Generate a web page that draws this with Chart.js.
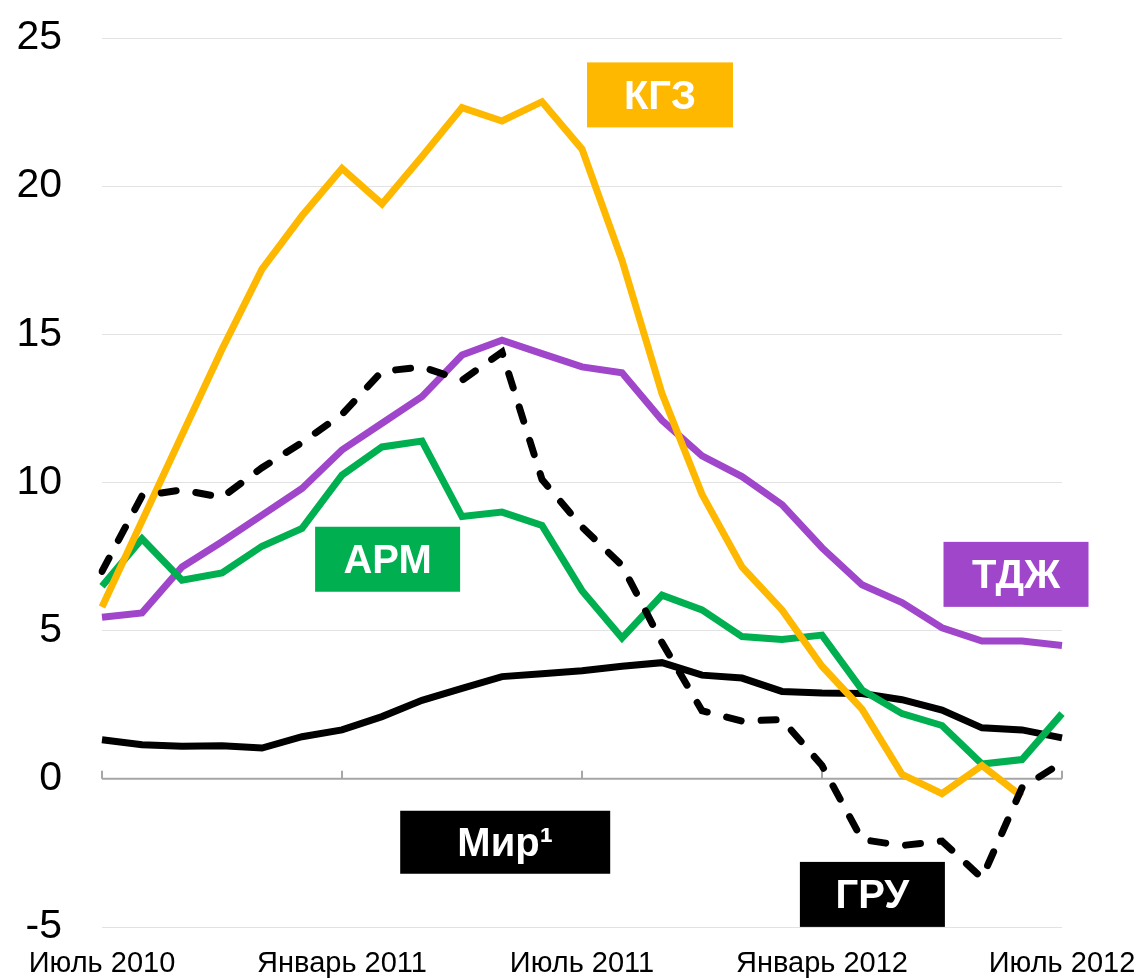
<!DOCTYPE html>
<html>
<head>
<meta charset="utf-8">
<script src="https://cdn.jsdelivr.net/npm/chart.js@4.4.1/dist/chart.umd.min.js"></script>
<style>
  html, body { margin: 0; padding: 0; background: #fff; }
  #wrap { width: 1140px; height: 978px; position: relative; }
</style>
</head>
<body>
<div id="wrap"><canvas id="c" width="1140" height="978"></canvas></div>
<script>
// ---- data ----
const categories = [
  'Июль 2010','Август 2010','Сентябрь 2010','Октябрь 2010','Ноябрь 2010','Декабрь 2010',
  'Январь 2011','Февраль 2011','Март 2011','Апрель 2011','Май 2011','Июнь 2011',
  'Июль 2011','Август 2011','Сентябрь 2011','Октябрь 2011','Ноябрь 2011','Декабрь 2011',
  'Январь 2012','Февраль 2012','Март 2012','Апрель 2012','Май 2012','Июнь 2012','Июль 2012'
];
const tickLabels = ['Июль 2010','Январь 2011','Июль 2011','Январь 2012','Июль 2012'];
const yTicks = [-5, 0, 5, 10, 15, 20, 25];

const kgz = [5.8, 8.7, 11.6, 14.5, 17.2, 19.0, 20.6, 19.4, 21.0, 22.65, 22.2, 22.85,
             21.25, 17.5, 13.0, 9.6, 7.15, 5.7, 3.8, 2.35, 0.15, -0.5, 0.45, -0.6, null];
const tdz = [5.45, 5.6, 7.15, 8.0, 8.9, 9.8, 11.1, 12.0, 12.9, 14.3, 14.8, 14.35,
             13.9, 13.7, 12.1, 10.9, 10.2, 9.25, 7.8, 6.55, 5.95, 5.1, 4.65, 4.65, 4.5];
const arm = [6.5, 8.1, 6.7, 6.95, 7.85, 8.45, 10.25, 11.2, 11.4, 8.85, 9.0, 8.55,
             6.35, 4.75, 6.2, 5.7, 4.8, 4.7, 4.85, 3.0, 2.2, 1.8, 0.5, 0.65, 2.2];
const world = [1.32, 1.15, 1.1, 1.12, 1.04, 1.42, 1.65, 2.1, 2.65, 3.05, 3.45, 3.55,
               3.65, 3.8, 3.92, 3.5, 3.4, 2.95, 2.9, 2.88, 2.67, 2.32, 1.72, 1.65, 1.38];
const gru = [7.0, 9.55, 9.75, 9.5, 10.5, 11.35, 12.3, 13.75, 13.9, 13.45, 14.4, 10.1,
             8.5, 7.2, 4.6, 2.3, 1.95, 2.0, 0.45, -2.05, -2.25, -2.1, -3.35, -0.3, 0.55];

const seriesNames = ['ГРУ', 'КГЗ', 'АРМ', 'ТДЖ', 'Мир¹'];
const seriesColors = ['#000000', '#FFB800', '#00B050', '#A046CB', '#000000'];

// ---- annotation boxes (anchored in data space) ----
const boxes = [
  { text: 'КГЗ',  color: '#FFB800', xi: 13.95, y: 23.08, w: 146, h: 65 },
  { text: 'АРМ',  color: '#00B050', xi: 7.14,  y: 7.41,  w: 145, h: 65 },
  { text: 'ТДЖ',  color: '#A046CB', xi: 22.85, y: 6.90,  w: 145, h: 65 },
  { text: 'Мир¹', color: '#000000', xi: 10.08, y: -2.14, w: 210, h: 63 },
  { text: 'ГРУ',  color: '#000000', xi: 19.26, y: -3.90, w: 145, h: 65 }
];

const FONT = '"Liberation Sans", Arial, Helvetica, sans-serif';

const axisPlugin = {
  id: 'zeroAxis',
  beforeDatasetsDraw(chart) {
    const { ctx, scales: { x, y }, chartArea } = chart;
    const y0 = y.getPixelForValue(0);
    ctx.save();
    ctx.strokeStyle = '#a6a6a6';
    ctx.lineWidth = 2;
    ctx.beginPath();
    ctx.moveTo(chartArea.left, y0);
    ctx.lineTo(chartArea.right, y0);
    categories.forEach((c, i) => {
      if (tickLabels.includes(c)) {
        const px = Math.round(x.getPixelForValue(i));
        ctx.moveTo(px, y0);
        ctx.lineTo(px, y0 - 8);
      }
    });
    ctx.stroke();
    ctx.restore();
  },
  afterDatasetsDraw(chart) {
    const { ctx, scales: { x, y } } = chart;
    ctx.save();
    boxes.forEach(b => {
      const cx = x.getPixelForValue(b.xi);
      const cy = y.getPixelForValue(b.y);
      ctx.fillStyle = b.color;
      ctx.fillRect(cx - b.w / 2, cy - b.h / 2, b.w, b.h);
      ctx.fillStyle = '#ffffff';
      ctx.font = 'bold 40px ' + FONT;
      ctx.textAlign = 'center';
      ctx.textBaseline = 'middle';
      ctx.fillText(b.text, cx, cy + 3);
    });
    ctx.restore();
  }
};

const seriesData = [gru, kgz, arm, tdz, world];
const datasets = seriesData.map((d, k) => ({
  label: seriesNames[k],
  data: d,
  borderColor: seriesColors[k],
  backgroundColor: seriesColors[k],
  borderWidth: 7,
  pointRadius: 0,
  tension: 0,
  fill: false,
  borderCapStyle: k === 0 ? 'round' : 'butt',
  borderJoinStyle: 'miter',
  borderDash: k === 0 ? [15, 20] : [],
  spanGaps: false
}));

new Chart(document.getElementById('c'), {
  type: 'line',
  data: { labels: categories, datasets },
  options: {
    responsive: false,
    animation: false,
    devicePixelRatio: 1,
    layout: { padding: { left: 17, right: 78, top: 38, bottom: 0 } },
    plugins: { legend: { display: false }, tooltip: { enabled: false } },
    scales: {
      x: {
        type: 'category',
        offset: false,
        grid: { display: false, drawTicks: false },
        border: { display: false },
        afterFit: (s) => { s.height = 51; s.paddingLeft = 0; s.paddingRight = 0; },
        ticks: {
          autoSkip: false,
          maxRotation: 0,
          minRotation: 0,
          padding: 20,
          color: '#000',
          font: { family: FONT, size: 29 },
          callback: function(v, i) {
            const l = categories[i];
            return tickLabels.includes(l) ? l : '';
          }
        }
      },
      y: {
        min: -5,
        max: 25,
        afterBuildTicks: (s) => { s.ticks = yTicks.map(v => ({ value: v })); },
        afterFit: (s) => { s.width = 85; s.paddingTop = 0; s.paddingBottom = 0; },
        grid: {
          drawTicks: false,
          color: (c) => c.tick && c.tick.value === 0 ? 'rgba(0,0,0,0)' : '#e2e2e2',
          lineWidth: 1
        },
        border: { display: false },
        ticks: {
          padding: 40,
          color: '#000',
          font: { family: FONT, size: 41 }
        }
      }
    }
  },
  plugins: [axisPlugin]
});
</script>
</body>
</html>
